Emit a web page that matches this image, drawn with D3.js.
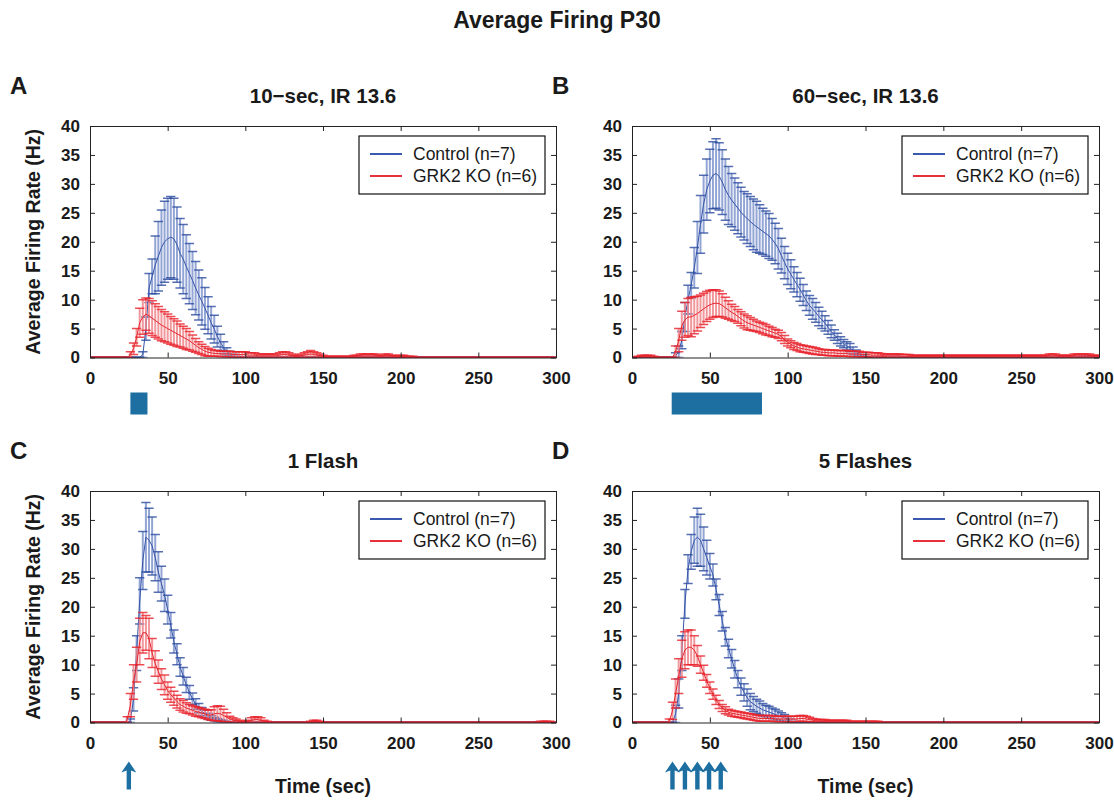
<!DOCTYPE html>
<html>
<head>
<meta charset="utf-8">
<script src="https://cdnjs.cloudflare.com/ajax/libs/d3/7.8.5/d3.min.js"></script>
<style>
body { margin: 0; background: #fff; }
svg { font-family: "Liberation Sans", Arial, sans-serif; }
</style>
</head>
<body>
<svg id="fig" width="1114" height="806"></svg>
<script>
const WIDTH = 1114;
const HEIGHT = 806;

// bins are 2 s wide, first bin at t = 0, last at t = 300 (151 values per series)
const STEP = 2;
const CAP = 3; // half width of the error bar caps, in seconds

const X_TICKS = [0, 50, 100, 150, 200, 250, 300];
const Y_TICKS = [0, 5, 10, 15, 20, 25, 30, 35, 40];
const LEGEND_LABELS = ["Control (n=7)", "GRK2 KO (n=6)"];
const PANEL_LETTERS = ["A", "B", "C", "D"];
const PANEL_TITLES = ["10\u2212sec, IR 13.6", "60\u2212sec, IR 13.6", "1 Flash", "5 Flashes"];

// stimulus marks (seconds)
const stimA = [26, 37];
const stimB = [25.5, 83.5];
const flashC = [25];
const flashD = [26, 34, 42, 49.5, 57];

// ---------- A : 10-sec ----------
const ctrlA_mean = [
/*  0*/ 0,0,0,0,0,0,0,0,0,0,
/* 20*/ 0,0,0,0,0,0,0,0.5,5,12,
/* 40*/ 14,16,17.5,19,20,20.5,20.8,20.5,19.5,18,
/* 60*/ 17,15.7,14.5,13.3,12,10.8,9.7,8.5,7.3,6,
/* 80*/ 4.9,3.6,2.6,1.7,1.0,0.6,0.3,0.1,0,0,
/*100*/ 0,0,0,0,0,0,0,0,0,0,
/*120*/ 0,0,0,0,0,0,0,0,0,0,
/*140*/ 0,0,0,0,0,0,0,0,0,0,
/*160*/ 0,0,0,0,0,0,0,0,0,0,
/*180*/ 0,0,0,0,0,0,0,0,0,0,
/*200*/ 0,0,0,0,0,0,0,0,0,0,
/*220*/ 0,0,0,0,0,0,0,0,0,0,
/*240*/ 0,0,0,0,0,0,0,0,0,0,
/*260*/ 0,0,0,0,0,0,0,0,0,0,
/*280*/ 0,0,0,0,0,0,0,0,0,0,
/*300*/ 0];
const ctrlA_sem = [
/*  0*/ 0,0,0,0,0,0,0,0,0,0,
/* 20*/ 0,0,0,0,0,0,0,0.5,2,2.5,
/* 40*/ 3,5,6,6.5,7,7,7,7,6.5,6,
/* 60*/ 6,5.5,5.2,5,4.6,4.3,4.1,3.6,3.2,2.8,
/* 80*/ 2.4,1.8,1.4,1.0,0.7,0.5,0.3,0.1,0,0,
/*100*/ 0,0,0,0,0,0,0,0,0,0,
/*120*/ 0,0,0,0,0,0,0,0,0,0,
/*140*/ 0,0,0,0,0,0,0,0,0,0,
/*160*/ 0,0,0,0,0,0,0,0,0,0,
/*180*/ 0,0,0,0,0,0,0,0,0,0,
/*200*/ 0,0,0,0,0,0,0,0,0,0,
/*220*/ 0,0,0,0,0,0,0,0,0,0,
/*240*/ 0,0,0,0,0,0,0,0,0,0,
/*260*/ 0,0,0,0,0,0,0,0,0,0,
/*280*/ 0,0,0,0,0,0,0,0,0,0,
/*300*/ 0];
const koA_mean = [
/*  0*/ 0,0,0,0,0,0,0,0,0,0,
/* 20*/ 0,0,0,0.5,1.5,3.5,6,7,7.5,7.2,
/* 40*/ 6.8,6.4,6,5.6,5.3,5,4.7,4.4,4.1,3.8,
/* 60*/ 3.5,3.2,2.9,2.5,2.1,1.7,1.4,1.1,0.9,0.8,
/* 80*/ 0.7,0.7,0.6,0.6,0.6,0.6,0.5,0.5,0.5,0.5,
/*100*/ 0.5,0.4,0.4,0.4,0.3,0.3,0.3,0.3,0.3,0.3,
/*120*/ 0.3,0.4,0.5,0.5,0.4,0.3,0.2,0.2,0.3,0.4,
/*140*/ 0.5,0.6,0.5,0.4,0.3,0.2,0.1,0.1,0.1,0.1,
/*160*/ 0.1,0.1,0.1,0.1,0.1,0.2,0.2,0.3,0.3,0.3,
/*180*/ 0.3,0.3,0.3,0.2,0.2,0.3,0.3,0.2,0.2,0.1,
/*200*/ 0.2,0.2,0.1,0.1,0.1,0,0,0,0,0,
/*220*/ 0,0,0,0,0,0,0,0,0,0,
/*240*/ 0,0,0,0,0,0,0,0,0,0,
/*260*/ 0,0,0,0,0,0,0,0,0,0,
/*280*/ 0,0,0,0,0,0,0,0,0,0,
/*300*/ 0];
const koA_sem = [
/*  0*/ 0,0,0,0,0,0,0,0,0,0,
/* 20*/ 0,0,0,0.5,1,1.5,2.5,3,2.8,3,
/* 40*/ 3,2.9,2.8,2.7,2.6,2.5,2.4,2.3,2.2,2,
/* 60*/ 1.9,1.8,1.6,1.4,1.2,1,0.9,0.8,0.7,0.6,
/* 80*/ 0.5,0.5,0.5,0.5,0.5,0.5,0.5,0.5,0.5,0.5,
/*100*/ 0.5,0.4,0.4,0.4,0.3,0.3,0.3,0.3,0.3,0.3,
/*120*/ 0.3,0.4,0.5,0.5,0.4,0.3,0.2,0.2,0.3,0.4,
/*140*/ 0.5,0.6,0.5,0.4,0.3,0.2,0.1,0.1,0.1,0.1,
/*160*/ 0.1,0.1,0.1,0.1,0.1,0.2,0.2,0.3,0.3,0.3,
/*180*/ 0.3,0.3,0.3,0.2,0.2,0.3,0.3,0.2,0.2,0.1,
/*200*/ 0.2,0.2,0.1,0.1,0.1,0,0,0,0,0,
/*220*/ 0,0,0,0,0,0,0,0,0,0,
/*240*/ 0,0,0,0,0,0,0,0,0,0,
/*260*/ 0,0,0,0,0,0,0,0,0,0,
/*280*/ 0,0,0,0,0,0,0,0,0,0,
/*300*/ 0];

// ---------- B : 60-sec ----------
const ctrlB_mean = [
/*  0*/ 0,0,0,0,0,0,0,0,0,0,
/* 20*/ 0,0,0,0,0.3,1,3,7,10,12.5,
/* 40*/ 15.5,19,23,26.5,29,30.5,31.5,31.8,31.3,30.3,
/* 60*/ 29,28,27.2,26.5,25.8,25.1,24.5,24,23.5,23,
/* 80*/ 22.6,22.2,21.8,21.4,21,20.4,19.7,18.8,17.6,16.4,
/*100*/ 15.3,14.4,13.5,12.6,11.7,10.8,9.8,9,8.4,7.8,
/*120*/ 7.1,6.5,5.9,5.2,4.5,3.9,3.3,2.8,2.4,2,
/*140*/ 1.7,1.2,0.8,0.5,0.3,0.1,0,0,0,0,
/*160*/ 0,0,0,0,0,0,0,0,0,0,
/*180*/ 0,0,0,0,0,0,0,0,0,0,
/*200*/ 0,0,0,0,0,0,0,0,0,0,
/*220*/ 0,0,0,0,0,0,0,0,0,0,
/*240*/ 0,0,0,0,0,0,0,0,0,0,
/*260*/ 0,0,0,0,0,0,0,0,0,0,
/*280*/ 0,0,0,0,0,0.1,0.1,0.1,0.1,0,
/*300*/ 0];
const ctrlB_sem = [
/*  0*/ 0,0,0,0,0,0,0,0,0,0,
/* 20*/ 0,0,0,0,0.5,1,1.5,2.5,2.5,2.2,
/* 40*/ 3.5,4.5,5,5,5.3,5.5,5.8,6,5.8,5.6,
/* 60*/ 5.3,5,4.6,4.5,4.4,4.3,4.2,4.3,4.3,4.4,
/* 80*/ 4.4,4.2,4,3.9,3.9,3.6,3.5,3.5,3,2.8,
/*100*/ 2.7,2.5,2.2,2.1,2,1.8,1.7,1.7,1.8,1.7,
/*120*/ 1.6,1.5,1.3,1.2,1.1,0.9,0.9,0.8,0.7,0.7,
/*140*/ 0.7,0.6,0.5,0.3,0.2,0.1,0,0,0,0,
/*160*/ 0,0,0,0,0,0,0,0,0,0,
/*180*/ 0,0,0,0,0,0,0,0,0,0,
/*200*/ 0,0,0,0,0,0,0,0,0,0,
/*220*/ 0,0,0,0,0,0,0,0,0,0,
/*240*/ 0,0,0,0,0,0,0,0,0,0,
/*260*/ 0,0,0,0,0,0,0,0,0,0,
/*280*/ 0,0,0,0,0,0.1,0.1,0.1,0.1,0,
/*300*/ 0];
const koB_mean = [
/*  0*/ 0,0,0.1,0.2,0.2,0.2,0.2,0.1,0,0,
/* 20*/ 0,0,0,0,1,3,5.5,6.5,7,7,
/* 40*/ 7.3,7.6,8,8.4,8.8,9.1,9.3,9.4,9.3,9,
/* 60*/ 8.6,8.2,7.8,7.5,7.1,6.7,6.3,6,5.8,5.6,
/* 80*/ 5.4,5.2,5,4.8,4.6,4.4,4.2,4,3.6,3.1,
/*100*/ 2.6,2.3,2,1.8,1.6,1.5,1.4,1.3,1.2,1.1,
/*120*/ 1,0.9,0.9,0.8,0.8,0.8,0.7,0.7,0.7,0.7,
/*140*/ 0.6,0.6,0.6,0.6,0.5,0.5,0.5,0.4,0.4,0.4,
/*160*/ 0.4,0.3,0.3,0.3,0.3,0.3,0.3,0.2,0.2,0.2,
/*180*/ 0.2,0.2,0.2,0.2,0.2,0.2,0.2,0.2,0.2,0.2,
/*200*/ 0.2,0.2,0.2,0.2,0.2,0.2,0.2,0.2,0.2,0.2,
/*220*/ 0.2,0.2,0.2,0.2,0.2,0.2,0.2,0.2,0.2,0.2,
/*240*/ 0.2,0.2,0.2,0.2,0.2,0.2,0.2,0.2,0.2,0.2,
/*260*/ 0.2,0.2,0.2,0.2,0.3,0.3,0.3,0.2,0.2,0.2,
/*280*/ 0.2,0.2,0.3,0.3,0.3,0.3,0.3,0.3,0.2,0.2,
/*300*/ 0.2];
const koB_sem = [
/*  0*/ 0,0,0.1,0.2,0.2,0.2,0.2,0.1,0,0,
/* 20*/ 0,0,0,0,1,2,2.5,3,3.2,3.4,
/* 40*/ 3.2,3,2.8,2.7,2.6,2.5,2.4,2.3,2.2,2,
/* 60*/ 1.8,1.6,1.4,1.3,1.2,1.2,1.2,1.2,1.1,1,
/* 80*/ 0.9,0.9,0.9,0.9,0.8,0.8,0.7,0.7,0.7,0.7,
/*100*/ 0.6,0.6,0.6,0.6,0.6,0.6,0.6,0.6,0.6,0.6,
/*120*/ 0.5,0.5,0.5,0.5,0.5,0.5,0.5,0.5,0.5,0.5,
/*140*/ 0.5,0.5,0.5,0.5,0.4,0.4,0.4,0.4,0.4,0.4,
/*160*/ 0.3,0.3,0.3,0.3,0.3,0.3,0.3,0.3,0.3,0.3,
/*180*/ 0.2,0.2,0.2,0.2,0.2,0.2,0.2,0.2,0.2,0.2,
/*200*/ 0.2,0.2,0.2,0.2,0.2,0.2,0.2,0.2,0.2,0.2,
/*220*/ 0.2,0.2,0.2,0.2,0.2,0.2,0.2,0.2,0.2,0.2,
/*240*/ 0.2,0.2,0.2,0.2,0.2,0.2,0.2,0.2,0.2,0.2,
/*260*/ 0.2,0.2,0.2,0.2,0.3,0.3,0.3,0.2,0.2,0.2,
/*280*/ 0.2,0.2,0.3,0.3,0.3,0.3,0.3,0.3,0.2,0.2,
/*300*/ 0.2];

// ---------- C : 1 flash ----------
const ctrlC_mean = [
/*  0*/ 0,0,0,0,0,0,0,0,0,0,
/* 20*/ 0,0,0,0.3,4,12,21,28,32,31.5,
/* 40*/ 30.5,28.5,26,24,22,19.5,16.8,14,11.8,9.6,
/* 60*/ 8,6.5,5.2,4.1,3.2,2.5,1.9,1.5,1.1,0.8,
/* 80*/ 0.6,0.4,0.3,0.2,0.1,0,0,0,0,0,
/*100*/ 0,0,0,0,0,0,0,0,0,0,
/*120*/ 0,0,0,0,0,0,0,0,0,0,
/*140*/ 0,0,0,0,0,0,0,0,0,0,
/*160*/ 0,0,0,0,0,0,0,0,0,0,
/*180*/ 0,0,0,0,0,0,0,0,0,0,
/*200*/ 0,0,0,0,0,0,0,0,0,0,
/*220*/ 0,0,0,0,0,0,0,0,0,0,
/*240*/ 0,0,0,0,0,0,0,0,0,0,
/*260*/ 0,0,0,0,0,0,0,0,0,0,
/*280*/ 0,0,0,0,0,0,0,0,0,0,
/*300*/ 0];
const ctrlC_sem = [
/*  0*/ 0,0,0,0,0,0,0,0,0,0,
/* 20*/ 0,0,0,0.3,2,3,4,5,6,5.5,
/* 40*/ 5,4,3.5,3,2.8,2.5,2.2,2,1.8,1.6,
/* 60*/ 1.5,1.3,1.2,1,0.9,0.8,0.7,0.6,0.5,0.4,
/* 80*/ 0.3,0.3,0.2,0.2,0.1,0,0,0,0,0,
/*100*/ 0,0,0,0,0,0,0,0,0,0,
/*120*/ 0,0,0,0,0,0,0,0,0,0,
/*140*/ 0,0,0,0,0,0,0,0,0,0,
/*160*/ 0,0,0,0,0,0,0,0,0,0,
/*180*/ 0,0,0,0,0,0,0,0,0,0,
/*200*/ 0,0,0,0,0,0,0,0,0,0,
/*220*/ 0,0,0,0,0,0,0,0,0,0,
/*240*/ 0,0,0,0,0,0,0,0,0,0,
/*260*/ 0,0,0,0,0,0,0,0,0,0,
/*280*/ 0,0,0,0,0,0,0,0,0,0,
/*300*/ 0];
const koC_mean = [
/*  0*/ 0,0,0,0,0,0,0,0,0,0,
/* 20*/ 0,0,0.5,3,7,10,14,15.5,15.5,14.5,
/* 40*/ 12,10.2,8.8,7.5,6.5,5.5,4.8,4.2,3.6,3.1,
/* 60*/ 2.8,2.5,2.3,2.1,1.9,1.8,1.6,1.5,1.3,1.3,
/* 80*/ 1.5,1.6,1.5,1.2,0.9,0.6,0.4,0.3,0.2,0.1,
/*100*/ 0.1,0.2,0.4,0.5,0.5,0.4,0.2,0.1,0,0,
/*120*/ 0,0,0,0,0,0,0,0,0,0,
/*140*/ 0,0.1,0.2,0.2,0.1,0,0,0,0,0,
/*160*/ 0,0,0,0,0,0,0,0,0,0,
/*180*/ 0,0,0,0,0,0,0,0,0,0,
/*200*/ 0,0,0,0,0,0,0,0,0,0,
/*220*/ 0,0,0,0,0,0,0,0,0,0,
/*240*/ 0,0,0,0,0,0,0,0,0,0,
/*260*/ 0,0,0,0,0,0,0,0,0,0,
/*280*/ 0,0,0,0,0,0.1,0.1,0.1,0.1,0,
/*300*/ 0];
const koC_sem = [
/*  0*/ 0,0,0,0,0,0,0,0,0,0,
/* 20*/ 0,0,0.5,2,3,3,4,3.5,3,3.5,
/* 40*/ 2.5,2.2,2,1.8,1.7,1.5,1.3,1.2,1.1,1,
/* 60*/ 1,0.9,0.8,0.8,0.8,0.8,0.8,0.8,0.8,0.9,
/* 80*/ 1.2,1.3,1.3,1.1,0.8,0.5,0.4,0.3,0.2,0.1,
/*100*/ 0.1,0.2,0.4,0.5,0.5,0.4,0.2,0.1,0,0,
/*120*/ 0,0,0,0,0,0,0,0,0,0,
/*140*/ 0,0.1,0.2,0.2,0.1,0,0,0,0,0,
/*160*/ 0,0,0,0,0,0,0,0,0,0,
/*180*/ 0,0,0,0,0,0,0,0,0,0,
/*200*/ 0,0,0,0,0,0,0,0,0,0,
/*220*/ 0,0,0,0,0,0,0,0,0,0,
/*240*/ 0,0,0,0,0,0,0,0,0,0,
/*260*/ 0,0,0,0,0,0,0,0,0,0,
/*280*/ 0,0,0,0,0,0.1,0.1,0.1,0.1,0,
/*300*/ 0];

// ---------- D : 5 flashes ----------
const ctrlD_mean = [
/*  0*/ 0,0,0,0,0,0,0,0,0,0,
/* 20*/ 0,0,0,0,1.5,5,12,20.5,26.5,29.5,
/* 40*/ 31.5,32,31.5,30,28.5,27,25.5,23,20.3,17.5,
/* 60*/ 14.8,12.8,11,9.2,7.5,6.2,5.2,4.3,3.6,3.2,
/* 80*/ 2.8,2.5,2.2,2,1.8,1.6,1.4,1.2,1,0.8,
/*100*/ 0.5,0.3,0.1,0,0,0,0,0,0,0,
/*120*/ 0,0,0,0,0,0,0,0,0,0,
/*140*/ 0,0,0,0,0,0,0,0,0,0,
/*160*/ 0,0,0,0,0,0,0,0,0,0,
/*180*/ 0,0,0,0,0,0,0,0,0,0,
/*200*/ 0,0,0,0,0,0,0,0,0,0,
/*220*/ 0,0,0,0,0,0,0,0,0,0,
/*240*/ 0,0,0,0,0,0,0,0,0,0,
/*260*/ 0,0,0,0,0,0,0,0,0,0,
/*280*/ 0,0,0,0,0,0,0,0,0,0,
/*300*/ 0];
const ctrlD_sem = [
/*  0*/ 0,0,0,0,0,0,0,0,0,0,
/* 20*/ 0,0,0,0,1.5,2.5,3,2.5,2.5,3,
/* 40*/ 4,5,4.5,3.8,3,2.2,1.9,1.8,1.8,1.7,
/* 60*/ 1.6,1.6,1.6,1.5,1.5,1.5,1.5,1.5,1.4,1.3,
/* 80*/ 1.2,1.2,1.1,1,1,0.9,0.9,0.8,0.7,0.6,
/*100*/ 0.5,0.3,0.1,0,0,0,0,0,0,0,
/*120*/ 0,0,0,0,0,0,0,0,0,0,
/*140*/ 0,0,0,0,0,0,0,0,0,0,
/*160*/ 0,0,0,0,0,0,0,0,0,0,
/*180*/ 0,0,0,0,0,0,0,0,0,0,
/*200*/ 0,0,0,0,0,0,0,0,0,0,
/*220*/ 0,0,0,0,0,0,0,0,0,0,
/*240*/ 0,0,0,0,0,0,0,0,0,0,
/*260*/ 0,0,0,0,0,0,0,0,0,0,
/*280*/ 0,0,0,0,0,0,0,0,0,0,
/*300*/ 0];
const koD_mean = [
/*  0*/ 0,0,0,0,0,0,0,0,0,0,
/* 20*/ 0,0,0.3,2,5,8,11,12.5,13,13,
/* 40*/ 12.5,11.5,10,8.6,7.2,6,4.9,3.9,3.1,2.5,
/* 60*/ 2.1,1.8,1.6,1.5,1.4,1.3,1.2,1.1,1,0.9,
/* 80*/ 0.8,0.7,0.7,0.7,0.7,0.7,0.6,0.6,0.6,0.6,
/*100*/ 0.6,0.6,0.6,0.6,0.7,0.7,0.6,0.5,0.4,0.3,
/*120*/ 0.3,0.3,0.3,0.2,0.2,0.2,0.2,0.2,0.2,0.2,
/*140*/ 0.1,0.1,0.1,0.1,0.1,0.1,0.1,0.1,0.1,0.1,
/*160*/ 0,0,0,0,0,0,0,0,0,0,
/*180*/ 0,0,0,0,0,0,0,0,0,0,
/*200*/ 0,0,0,0,0,0,0,0,0,0,
/*220*/ 0,0,0,0,0,0,0,0,0,0,
/*240*/ 0,0,0,0,0,0,0,0,0,0,
/*260*/ 0,0,0,0,0,0,0,0,0,0,
/*280*/ 0,0,0,0,0,0,0,0,0,0,
/*300*/ 0];
const koD_sem = [
/*  0*/ 0,0,0,0,0,0,0,0,0,0,
/* 20*/ 0,0,0.3,1.5,2.5,3,3.2,3.2,3,3,
/* 40*/ 2.5,1.8,1.5,1.3,1.1,1,0.9,0.8,0.7,0.6,
/* 60*/ 0.6,0.5,0.5,0.5,0.5,0.5,0.5,0.5,0.5,0.5,
/* 80*/ 0.5,0.5,0.5,0.5,0.5,0.5,0.5,0.5,0.5,0.5,
/*100*/ 0.5,0.5,0.5,0.5,0.5,0.5,0.5,0.4,0.3,0.3,
/*120*/ 0.2,0.2,0.2,0.2,0.2,0.2,0.2,0.2,0.2,0.2,
/*140*/ 0.1,0.1,0.1,0.1,0.1,0.1,0.1,0.1,0.1,0.1,
/*160*/ 0,0,0,0,0,0,0,0,0,0,
/*180*/ 0,0,0,0,0,0,0,0,0,0,
/*200*/ 0,0,0,0,0,0,0,0,0,0,
/*220*/ 0,0,0,0,0,0,0,0,0,0,
/*240*/ 0,0,0,0,0,0,0,0,0,0,
/*260*/ 0,0,0,0,0,0,0,0,0,0,
/*280*/ 0,0,0,0,0,0,0,0,0,0,
/*300*/ 0];

// colours
const BLUE = {line: "#3654a8", cap: "#2c4b9f", stem: "#7f95cc", legend: "#3a59b0"};
const RED = {line: "#e4262e", cap: "#e8222b", stem: "#f0858a", legend: "#e8303a"};
const STIM = "#1d6fa2";

// layout of the four axes boxes
const panels = [
  {letter: "A", title: PANEL_TITLES[0], x0: 90, x1: 556, y0: 357.5, y1: 126,
   series: [[ctrlA_mean, ctrlA_sem, BLUE], [koA_mean, koA_sem, RED]], ylabel: true, xlabel: false, stim: "bar", stimData: stimA},
  {letter: "B", title: PANEL_TITLES[1], x0: 632, x1: 1099, y0: 357.5, y1: 126,
   series: [[ctrlB_mean, ctrlB_sem, BLUE], [koB_mean, koB_sem, RED]], ylabel: false, xlabel: false, stim: "bar", stimData: stimB},
  {letter: "C", title: PANEL_TITLES[2], x0: 90, x1: 556, y0: 722.5, y1: 491,
   series: [[ctrlC_mean, ctrlC_sem, BLUE], [koC_mean, koC_sem, RED]], ylabel: true, xlabel: true, stim: "arrow", stimData: flashC},
  {letter: "D", title: PANEL_TITLES[3], x0: 632, x1: 1099, y0: 722.5, y1: 491,
   series: [[ctrlD_mean, ctrlD_sem, BLUE], [koD_mean, koD_sem, RED]], ylabel: false, xlabel: true, stim: "arrow", stimData: flashD}
];

panels.forEach(p => p.series.forEach(s => {
  if (s[0].length !== 151 || s[1].length !== 151) throw new Error(p.letter + " length " + s[0].length + "/" + s[1].length);
}));

const svg = d3.select("#fig");

svg.append("text")
  .attr("x", WIDTH / 2)
  .attr("y", 28)
  .attr("text-anchor", "middle")
  .style("font-size", "23px")
  .style("font-weight", "bold")
  .attr("fill", "#1a1a1a")
  .text("Average Firing P30");

function drawSeries(g, x, y, mean, sem, col) {
  const pts = mean.map((v, i) => ({t: i * STEP, m: v, s: sem[i]}));

  // vertical error bars, wide enough to read as a band like the original
  g.append("g").selectAll("line")
    .data(pts)
    .join("line")
      .attr("x1", d => x(d.t))
      .attr("x2", d => x(d.t))
      .attr("y1", d => y(d.m - d.s))
      .attr("y2", d => y(d.m + d.s))
      .attr("stroke", col.stem)
      .attr("stroke-opacity", 0.85)
      .attr("stroke-width", 2);

  // caps
  const caps = pts.flatMap(d => [d.m - d.s, d.m + d.s].map(v => ({t: d.t, v: v})));
  g.append("g").selectAll("line")
    .data(caps)
    .join("line")
      .attr("x1", d => x(d.t - CAP))
      .attr("x2", d => x(d.t + CAP))
      .attr("y1", d => y(d.v))
      .attr("y2", d => y(d.v))
      .attr("stroke", col.cap)
      .attr("stroke-opacity", 0.8)
      .attr("stroke-width", 1.5);

  // mean
  g.append("path")
    .datum(pts)
    .attr("d", d3.line().x(d => x(d.t)).y(d => y(d.m)))
    .attr("fill", "none")
    .attr("stroke", col.line)
    .attr("stroke-width", 1);
}

function styleAxis(sel) {
  sel.select(".domain").attr("stroke", "#222");
  sel.selectAll(".tick line").attr("stroke", "#222");
  sel.selectAll("text")
    .attr("fill", "#1a1a1a")
    .style("font-size", "17px")
    .style("font-weight", "bold")
    .style("font-family", "'Liberation Sans', Arial, sans-serif");
}

function arrowPath(cx, top) {
  const hw = 7.5, sw = 2.2, hh = 11, bottom = top + 28;
  return `M${cx},${top} L${cx + hw},${top + hh} L${cx + sw},${top + hh - 2} L${cx + sw},${bottom} ` +
         `L${cx - sw},${bottom} L${cx - sw},${top + hh - 2} L${cx - hw},${top + hh} Z`;
}

function drawPanel(p) {
  const x = d3.scaleLinear().domain([0, 300]).range([p.x0, p.x1]);
  const y = d3.scaleLinear().domain([0, 40]).range([p.y0, p.y1]);
  const g = svg.append("g");

  svg.append("clipPath").attr("id", "clip" + p.letter)
    .append("rect")
      .attr("x", p.x0).attr("y", p.y1)
      .attr("width", p.x1 - p.x0).attr("height", p.y0 - p.y1);

  const plot = g.append("g").attr("clip-path", "url(#clip" + p.letter + ")");
  p.series.forEach(s => drawSeries(plot, x, y, s[0], s[1], s[2]));

  // axes (ticks pointing inward, box on)
  g.append("g")
    .attr("transform", "translate(0," + p.y0 + ")")
    .call(d3.axisBottom(x).tickValues(X_TICKS).tickSizeInner(-5).tickSizeOuter(0).tickPadding(14))
    .call(styleAxis);
  g.append("g")
    .attr("transform", "translate(" + p.x0 + ",0)")
    .call(d3.axisLeft(y).tickValues(Y_TICKS).tickSizeInner(-5).tickSizeOuter(0).tickPadding(10))
    .call(styleAxis);
  g.append("g")
    .attr("transform", "translate(0," + p.y1 + ")")
    .call(d3.axisTop(x).tickValues(X_TICKS).tickSizeInner(-5).tickSizeOuter(0).tickFormat(""))
    .call(styleAxis);
  g.append("g")
    .attr("transform", "translate(" + p.x1 + ",0)")
    .call(d3.axisRight(y).tickValues(Y_TICKS).tickSizeInner(-5).tickSizeOuter(0).tickFormat(""))
    .call(styleAxis);

  // panel letter and title
  g.append("text")
    .attr("x", p.x0 - 80)
    .attr("y", p.y1 - 32)
    .style("font-size", "24px")
    .style("font-weight", "bold")
    .attr("fill", "#1a1a1a")
    .text(p.letter);
  g.append("text")
    .attr("x", (p.x0 + p.x1) / 2)
    .attr("y", p.y1 - 23)
    .attr("text-anchor", "middle")
    .style("font-size", "20.5px")
    .style("font-weight", "bold")
    .attr("fill", "#1a1a1a")
    .text(p.title);

  if (p.ylabel) {
    g.append("text")
      .attr("transform", "translate(" + (p.x0 - 50) + "," + ((p.y0 + p.y1) / 2) + ") rotate(-90)")
      .attr("text-anchor", "middle")
      .style("font-size", "19.5px")
      .style("font-weight", "bold")
      .attr("fill", "#1a1a1a")
      .text("Average Firing Rate (Hz)");
  }
  if (p.xlabel) {
    g.append("text")
      .attr("x", (p.x0 + p.x1) / 2)
      .attr("y", p.y0 + 70)
      .attr("text-anchor", "middle")
      .style("font-size", "19.5px")
      .style("font-weight", "bold")
      .attr("fill", "#1a1a1a")
      .text("Time (sec)");
  }

  // legend
  const lx = p.x1 - 197, ly = p.y1 + 10;
  const leg = g.append("g");
  leg.append("rect")
    .attr("x", lx).attr("y", ly)
    .attr("width", 186).attr("height", 58)
    .attr("fill", "#fff").attr("stroke", "#111").attr("stroke-width", 1.2);
  [BLUE, RED].forEach((c, i) => {
    const ry = ly + 18 + i * 22;
    leg.append("line")
      .attr("x1", lx + 11).attr("x2", lx + 43)
      .attr("y1", ry).attr("y2", ry)
      .attr("stroke", c.legend).attr("stroke-width", 2);
    leg.append("text")
      .attr("x", lx + 54).attr("y", ry + 6)
      .style("font-size", "17.5px")
      .attr("fill", "#1a1a1a")
      .text(LEGEND_LABELS[i]);
  });

  // stimulus
  if (p.stim === "bar") {
    g.append("rect")
      .attr("x", x(p.stimData[0]))
      .attr("y", p.y0 + 35)
      .attr("width", x(p.stimData[1]) - x(p.stimData[0]))
      .attr("height", 22)
      .attr("fill", STIM);
  } else {
    g.selectAll("path.flash")
      .data(p.stimData)
      .join("path")
        .attr("class", "flash")
        .attr("d", d => arrowPath(x(d), p.y0 + 39))
        .attr("fill", STIM);
  }
}

panels.forEach(drawPanel);
</script>
</body>
</html>
